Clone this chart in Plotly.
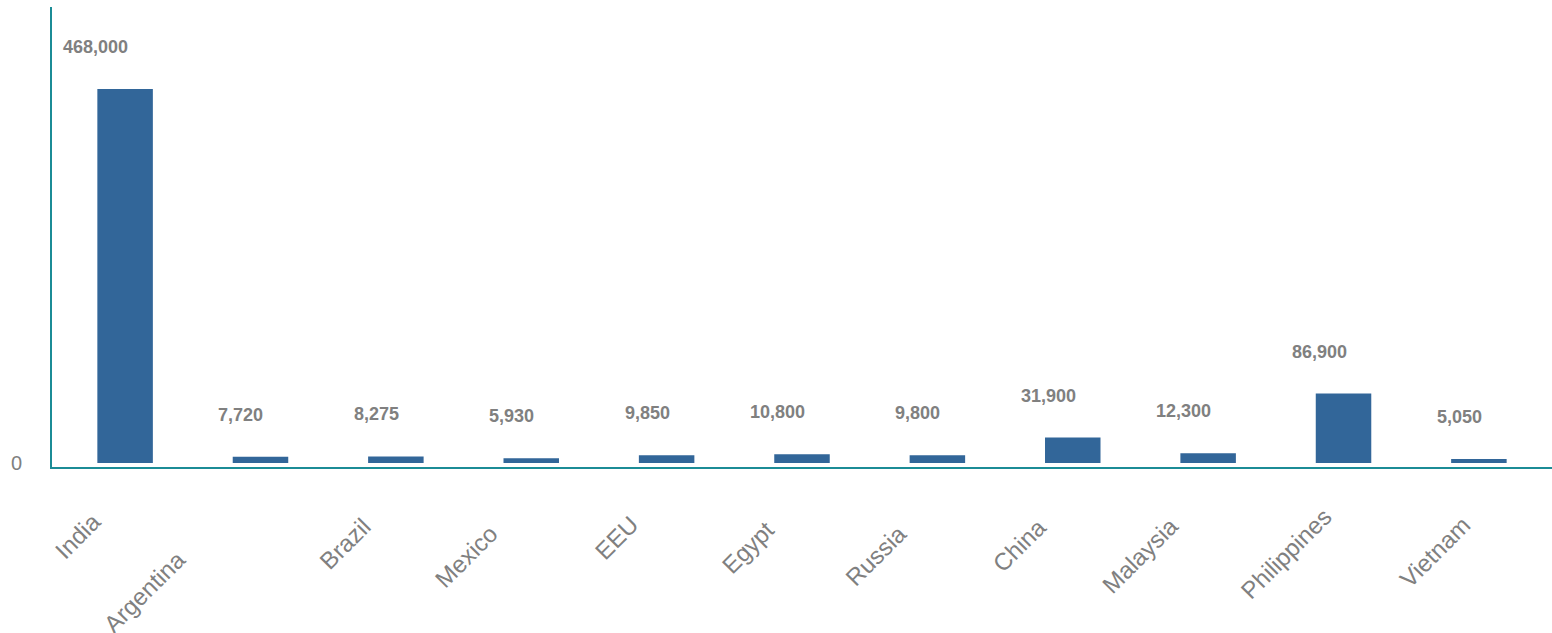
import plotly.graph_objects as go

categories = ["India", "Argentina", "Brazil", "Mexico", "EEU", "Egypt",
              "Russia", "China", "Malaysia", "Philippines", "Vietnam"]
values = [468000, 7720, 8275, 5930, 9850, 10800, 9800, 31900, 12300, 86900, 5050]
value_labels = ["468,000", "7,720", "8,275", "5,930", "9,850", "10,800",
                "9,800", "31,900", "12,300", "86,900", "5,050"]
y_ticks = [0]
y_tick_labels = ["0"]

# label placement offsets (px) for category names, as drawn in the original
name_xshift = [-16, -67, -17, -26, -20, -20, -23, -19, -22, -4, 0]
name_yshift = [-37, -76, -43, -50, -41, -46, -50, -44, -43, -33, -41]

BAR = "#326699"
AXIS = "#1B8C96"
GREY = "#808080"
FONT = "Liberation Sans, Arial, sans-serif"

fig = go.Figure()
fig.add_trace(go.Bar(
    x=list(range(len(categories))), y=values, width=0.41,
    marker=dict(color=BAR, line=dict(width=0)),
    hoverinfo="skip", showlegend=False,
))

annotations = []
for i, (v, t) in enumerate(zip(values, value_labels)):
    annotations.append(dict(
        x=i, y=v, xref="x", yref="y", text=f"<b>{t}</b>", showarrow=False,
        xanchor="right", yanchor="middle", xshift=5, yshift=42,
        font=dict(family=FONT, size=18, color=GREY),
    ))
for i, name in enumerate(categories):
    annotations.append(dict(
        x=i, y=0, xref="x", yref="paper", text=name, showarrow=False,
        textangle=-45, xanchor="right", yanchor="top",
        xshift=name_xshift[i], yshift=name_yshift[i],
        font=dict(family=FONT, size=24, color=GREY),
    ))

fig.update_layout(
    width=1552, height=633,
    margin=dict(l=52, r=0, t=7, b=166),
    paper_bgcolor="white", plot_bgcolor="rgba(0,0,0,0)",
    annotations=annotations,
    xaxis=dict(range=[-0.54, 10.54], showticklabels=False, ticks="",
               showgrid=False, zeroline=False, showline=True,
               linecolor=AXIS, linewidth=2),
    yaxis=dict(range=[-5000, 570600], tickvals=y_ticks, ticktext=y_tick_labels,
               showgrid=False, zeroline=False, showline=True,
               linecolor=AXIS, linewidth=2, ticks="",
               tickfont=dict(family=FONT, size=20, color=GREY),
               ticklabelstandoff=24),
    font=dict(family=FONT),
)

fig.write_html("out.html", config={"displayModeBar": False},
               post_script="document.body.style.margin='0';document.body.style.overflow='hidden';")
